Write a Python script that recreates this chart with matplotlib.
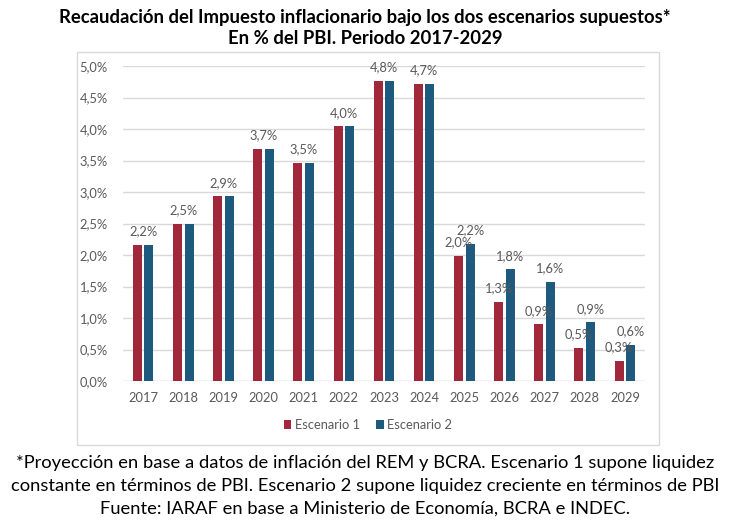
import matplotlib
matplotlib.use("Agg")
import matplotlib.pyplot as plt
from matplotlib.patches import Rectangle, Patch
import numpy as np

years = ["2017", "2018", "2019", "2020", "2021", "2022", "2023",
         "2024", "2025", "2026", "2027", "2028", "2029"]
escenario1 = [2.16, 2.50, 2.93, 3.68, 3.46, 4.04, 4.76, 4.72, 1.98, 1.26, 0.90, 0.53, 0.32]
escenario2 = [2.16, 2.50, 2.93, 3.68, 3.46, 4.04, 4.76, 4.72, 2.18, 1.77, 1.57, 0.93, 0.57]
yticks = [0.0, 0.5, 1.0, 1.5, 2.0, 2.5, 3.0, 3.5, 4.0, 4.5, 5.0]

RED = "#A0283A"
BLUE = "#1D5A7E"
GRAY_TXT = "#595959"
GRID = "#D9D9D9"

plt.rcParams['font.family'] = ['Lato', 'DejaVu Sans']

W, H = 730, 528
fig = plt.figure(figsize=(W / 100, H / 100), dpi=100)

# chart border
fig.patches.append(Rectangle((77 / W, 1 - 445 / H), (659 - 77) / W, (445 - 52) / H,
                             transform=fig.transFigure, fill=False,
                             edgecolor=GRID, linewidth=1.0))

ax = fig.add_axes([123 / W, 1 - 381 / H, (645 - 123) / W, (381 - 66) / H])
x = np.arange(len(years))
bw = 0.224
off = bw / 2 + 0.033
ax.bar(x - off, escenario1, width=bw, color=RED, label="Escenario 1", zorder=3)
ax.bar(x + off, escenario2, width=bw, color=BLUE, label="Escenario 2", zorder=3)

ax.set_xlim(-0.5, len(years) - 0.5)
ax.set_ylim(0, 5.0)
ax.set_yticks(yticks)
ax.set_yticklabels([f"{v:.1f}".replace('.', ',') + "%" for v in yticks])
ax.set_xticks(x)
ax.set_xticklabels(years)
ax.tick_params(axis='both', length=0, labelsize=9.3, labelcolor=GRAY_TXT)
ax.tick_params(axis='y', pad=11)
ax.tick_params(axis='x', pad=8)
ax.grid(axis='y', color=GRID, linewidth=1.0, zorder=0)
for s in ax.spines.values():
    s.set_visible(False)
ax.axhline(0, color=GRID, linewidth=1.0, zorder=2)


def fmt(v):
    return f"{v:.1f}".replace('.', ',') + "%"


LBL = 9.3
OFF_PT = 5.5
for i, (a, b) in enumerate(zip(escenario1, escenario2)):
    if fmt(a) == fmt(b):
        ax.annotate(fmt(a), (x[i], a), xytext=(0, OFF_PT), textcoords="offset points",
                    ha="center", va="bottom", fontsize=LBL, color=GRAY_TXT, zorder=4)
    else:
        ax.annotate(fmt(a), (x[i] - off, a), xytext=(0, OFF_PT), textcoords="offset points",
                    ha="center", va="bottom", fontsize=LBL, color=GRAY_TXT, zorder=4)
        ax.annotate(fmt(b), (x[i] + off, b), xytext=(0, OFF_PT), textcoords="offset points",
                    ha="center", va="bottom", fontsize=LBL, color=GRAY_TXT, zorder=4)

handles = [Patch(facecolor=RED, label="Escenario 1"), Patch(facecolor=BLUE, label="Escenario 2")]
fig.legend(handles=handles, loc="center", bbox_to_anchor=(368 / W, 1 - 425 / H),
           ncol=2, frameon=False, fontsize=9.3, labelcolor=GRAY_TXT,
           handlelength=0.6, handleheight=0.6, handletextpad=0.3, columnspacing=1.2)

fig.text(0.5, 1 - 17 / H, "Recaudación del Impuesto inflacionario bajo los dos escenarios supuestos*",
         ha="center", va="center", fontsize=13.3, fontweight="bold", color="black")
fig.text(0.5, 1 - 38 / H, "En % del PBI. Periodo 2017-2029",
         ha="center", va="center", fontsize=13.3, fontweight="bold", color="black")

foot = ["*Proyección en base a datos de inflación del REM y BCRA. Escenario 1 supone liquidez",
        "constante en términos de PBI. Escenario 2 supone liquidez creciente en términos de PBI",
        "Fuente: IARAF en base a Ministerio de Economía, BCRA e INDEC."]
for k, line in enumerate(foot):
    fig.text(0.5, 1 - (463 + 23 * k) / H, line, ha="center", va="center",
             fontsize=13.2, color="black")

fig.savefig("out.png", dpi=100)
